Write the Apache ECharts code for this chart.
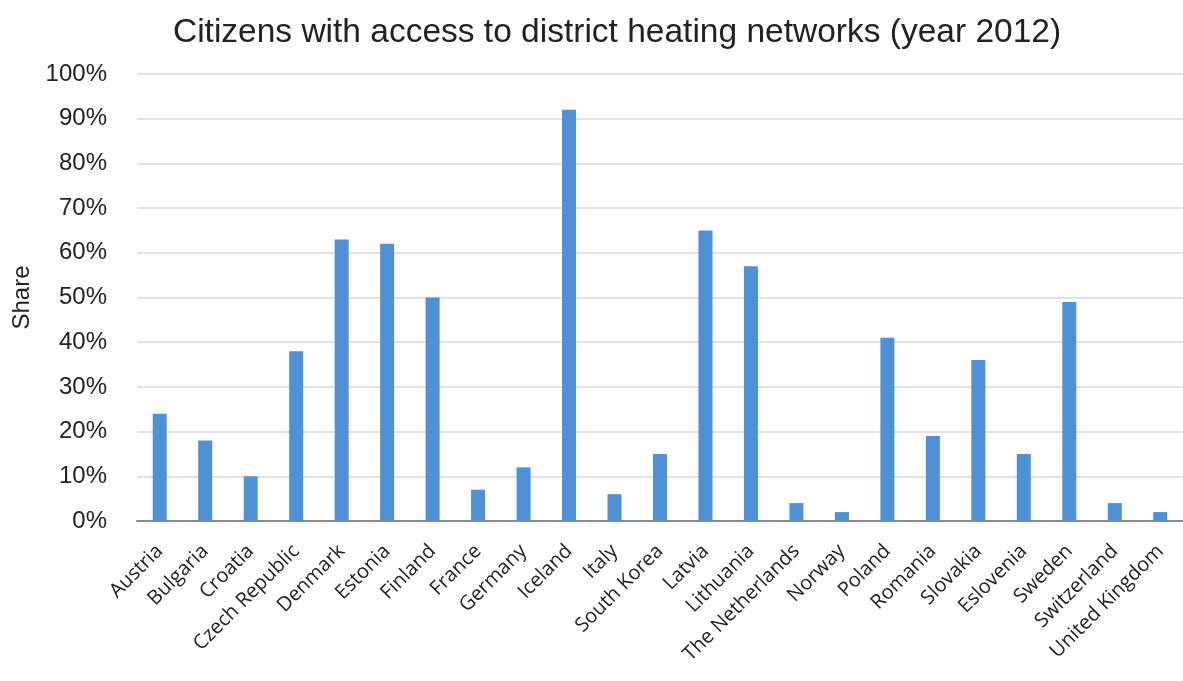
<!DOCTYPE html>
<html style="height: 100%">
<head>
    <meta charset="UTF-8">
    <title>District heating</title>
    <script src="https://cdn.jsdelivr.net/npm/echarts@6/dist/echarts.min.js"></script>
</head>
<body style="height: 100%; margin: 0; background: #fff">
    <div id="main" style="width: 1183px; height: 681px;"></div>
    <script>
        // 数据
        var countries = ['Austria', 'Bulgaria', 'Croatia', 'Czech Republic', 'Denmark', 'Estonia', 'Finland',
            'France', 'Germany', 'Iceland', 'Italy', 'South Korea', 'Latvia', 'Lithuania', 'The Netherlands',
            'Norway', 'Poland', 'Romania', 'Slovakia', 'Eslovenia', 'Sweden', 'Switzerland', 'United Kingdom'];
        var shares = [24, 18, 10, 38, 63, 62, 50, 7, 12, 92, 6, 15, 65, 57, 4, 2, 41, 19, 36, 15, 49, 4, 2];

        var myChart = echarts.init(document.getElementById('main'));

        var option = {
            animation: false,
            title: {
                text: 'Citizens with access to district heating networks (year 2012)',
                left: 612,
                textAlign: 'center',
                top: 11,
                textStyle: {
                    color: '#222',
                    fontSize: 33.5,
                    fontWeight: 'normal',
                    fontFamily: 'Liberation Sans'
                }
            },
            grid: {
                left: 137,
                top: 74,
                width: 1053,
                height: 447,
                containLabel: false
            },
            xAxis: {
                type: 'category',
                data: countries,
                axisLine: { lineStyle: { color: '#8a8a8a', width: 2 } },
                axisTick: { show: false },
                axisLabel: {
                    rotate: 45,
                    interval: 0,
                    margin: 27,
                    color: '#222',
                    fontSize: 20,
                    fontFamily: 'Open Sans'
                }
            },
            yAxis: {
                type: 'value',
                min: 0,
                max: 100,
                interval: 10,
                name: 'Share',
                nameLocation: 'middle',
                nameGap: 97,
                nameRotate: 90,
                nameTextStyle: {
                    color: '#222',
                    fontSize: 24,
                    fontFamily: 'Liberation Sans'
                },
                axisLine: { show: false },
                axisTick: { show: false },
                axisLabel: {
                    formatter: '{value}%',
                    color: '#222',
                    fontSize: 24,
                    margin: 30,
                    fontFamily: 'Liberation Sans'
                },
                splitLine: { lineStyle: { color: '#d9d9d9', width: 1.5 } }
            },
            series: [{
                type: 'bar',
                data: shares,
                barWidth: 14,
                itemStyle: { color: '#4f91d6' }
            }]
        };

        myChart.setOption(option);
    </script>
</body>
</html>
